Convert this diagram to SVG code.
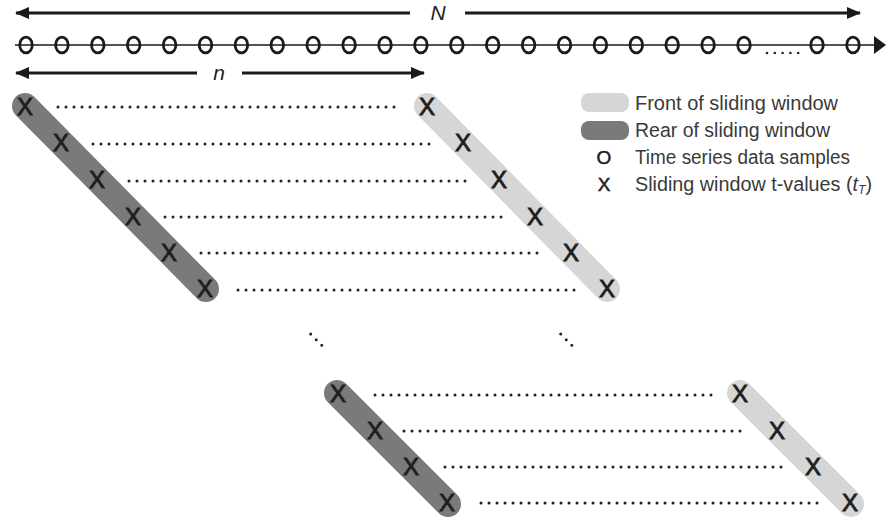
<svg xmlns="http://www.w3.org/2000/svg" width="886" height="524" viewBox="0 0 886 524">
<style>
.arr{stroke:#1a1a1a;stroke-width:3;fill:none}
.ah{fill:#1a1a1a}
.o{fill:none;stroke:#1a1a1a;stroke-width:2.8}
.dots{stroke:#222;stroke-width:3;stroke-linecap:round;stroke-dasharray:0 8;fill:none}
.rear{stroke:#7a7a7a;stroke-width:26;stroke-linecap:round;fill:none}
.front{stroke:#d6d6d6;stroke-width:26;stroke-linecap:round;fill:none}
.x{font-family:"Liberation Sans",Arial,sans-serif;font-size:24px;fill:#1e1e1e;stroke:#1e1e1e;stroke-width:0.9;text-anchor:middle}
.lbl{font-family:"Liberation Sans",Arial,sans-serif;font-size:21px;font-style:italic;fill:#222;text-anchor:middle}
.leg{font-family:"Liberation Sans",Arial,sans-serif;font-size:19.5px;fill:#3a3a3a}
.legsym{font-family:"Liberation Sans",Arial,sans-serif;font-size:19px;fill:#1e1e1e;stroke:#1e1e1e;stroke-width:0.5;text-anchor:middle}
</style>
<defs>
<marker id="head" viewBox="0 0 14 12" refX="13" refY="6" markerWidth="14" markerHeight="12" markerUnits="userSpaceOnUse" orient="auto-start-reverse">
<path d="M0,0 L14,6 L0,12 Z" class="ah"/>
</marker>
</defs>

<g id="connectors">
<line class="arr" x1="16" y1="13" x2="410" y2="13" marker-start="url(#head)"/>
<line class="arr" x1="465" y1="13" x2="860" y2="13" marker-end="url(#head)"/>
<line class="arr" x1="16" y1="73" x2="197" y2="73" marker-start="url(#head)"/>
<line class="arr" x1="242" y1="73" x2="424" y2="73" marker-end="url(#head)"/>
</g>

<g id="N-label"><text class="lbl" x="438" y="20">N</text></g>
<g id="n-label"><text class="lbl" x="219" y="80">n</text></g>

<g id="timeline">
<line x1="15" y1="45" x2="876" y2="45" stroke="#1a1a1a" stroke-width="1.6"/>
<path d="M874,36 L886,45 L874,54 Z" class="ah"/>
<g class="o">
<ellipse cx="26" cy="45" rx="6.3" ry="7.8"/>
<ellipse cx="61.9" cy="45" rx="6.3" ry="7.8"/>
<ellipse cx="97.8" cy="45" rx="6.3" ry="7.8"/>
<ellipse cx="133.7" cy="45" rx="6.3" ry="7.8"/>
<ellipse cx="169.6" cy="45" rx="6.3" ry="7.8"/>
<ellipse cx="205.5" cy="45" rx="6.3" ry="7.8"/>
<ellipse cx="241.4" cy="45" rx="6.3" ry="7.8"/>
<ellipse cx="277.3" cy="45" rx="6.3" ry="7.8"/>
<ellipse cx="313.2" cy="45" rx="6.3" ry="7.8"/>
<ellipse cx="349.1" cy="45" rx="6.3" ry="7.8"/>
<ellipse cx="385" cy="45" rx="6.3" ry="7.8"/>
<ellipse cx="420.9" cy="45" rx="6.3" ry="7.8"/>
<ellipse cx="456.8" cy="45" rx="6.3" ry="7.8"/>
<ellipse cx="492.7" cy="45" rx="6.3" ry="7.8"/>
<ellipse cx="528.6" cy="45" rx="6.3" ry="7.8"/>
<ellipse cx="564.5" cy="45" rx="6.3" ry="7.8"/>
<ellipse cx="600.4" cy="45" rx="6.3" ry="7.8"/>
<ellipse cx="636.3" cy="45" rx="6.3" ry="7.8"/>
<ellipse cx="672.2" cy="45" rx="6.3" ry="7.8"/>
<ellipse cx="708.1" cy="45" rx="6.3" ry="7.8"/>
<ellipse cx="744" cy="45" rx="6.3" ry="7.8"/>
<ellipse cx="817" cy="45" rx="6.3" ry="7.8"/>
<ellipse cx="853" cy="45" rx="6.3" ry="7.8"/>
</g>
<line x1="767" y1="53" x2="799" y2="53" stroke="#222" stroke-width="2.6" stroke-linecap="round" stroke-dasharray="0 7.8"/>
</g>

<g id="window-top">
<line class="rear" x1="25" y1="106" x2="206" y2="289"/>
<line class="front" x1="427" y1="106" x2="607" y2="289"/>
<g id="dots-top">
<line class="dots" x1="58" y1="107" x2="398" y2="107"/>
<line class="dots" x1="93" y1="144" x2="433" y2="144"/>
<line class="dots" x1="129" y1="181" x2="469" y2="181"/>
<line class="dots" x1="165" y1="217" x2="505" y2="217"/>
<line class="dots" x1="201" y1="253" x2="541" y2="253"/>
<line class="dots" x1="238" y1="290" x2="578" y2="290"/>
</g>
<text class="x" x="25" y="115">X</text>
<text class="x" x="61" y="151">X</text>
<text class="x" x="97" y="188">X</text>
<text class="x" x="133" y="225">X</text>
<text class="x" x="169" y="261">X</text>
<text class="x" x="205" y="297">X</text>
<text class="x" x="427" y="115">X</text>
<text class="x" x="463" y="151">X</text>
<text class="x" x="499" y="188">X</text>
<text class="x" x="535" y="225">X</text>
<text class="x" x="571" y="261">X</text>
<text class="x" x="607" y="297">X</text>
</g>

<g id="ellipsis-left">
<line x1="310.7" y1="334" x2="322" y2="345.5" stroke="#222" stroke-width="3" stroke-linecap="round" stroke-dasharray="0 7.9"/>
</g>
<g id="ellipsis-right">
<line x1="560.7" y1="334" x2="572" y2="345.5" stroke="#222" stroke-width="3" stroke-linecap="round" stroke-dasharray="0 7.9"/>
</g>

<g id="window-bottom">
<line class="rear" x1="337" y1="393" x2="448" y2="504"/>
<line class="front" x1="740" y1="393" x2="851" y2="504"/>
<g id="dots-bottom">
<line class="dots" x1="375" y1="395" x2="715" y2="395"/>
<line class="dots" x1="404" y1="431" x2="744" y2="431"/>
<line class="dots" x1="445" y1="467" x2="785" y2="467"/>
<line class="dots" x1="481" y1="503" x2="821" y2="503"/>
</g>
<text class="x" x="338" y="402">X</text>
<text class="x" x="375" y="439">X</text>
<text class="x" x="411" y="475">X</text>
<text class="x" x="447" y="511">X</text>
<text class="x" x="740" y="402">X</text>
<text class="x" x="777" y="439">X</text>
<text class="x" x="813" y="475">X</text>
<text class="x" x="850" y="511">X</text>
</g>

<g id="legend">
<rect x="581" y="93" width="48" height="19" rx="8" fill="#d6d6d6"/>
<text class="leg" x="635" y="110" textLength="203" lengthAdjust="spacingAndGlyphs">Front of sliding window</text>
<rect x="581" y="121" width="48" height="19" rx="8" fill="#7a7a7a"/>
<text class="leg" x="635" y="137" textLength="195" lengthAdjust="spacingAndGlyphs">Rear of sliding window</text>
<text class="legsym" x="604" y="164">O</text>
<text class="leg" x="635" y="164" textLength="215" lengthAdjust="spacingAndGlyphs">Time series data samples</text>
<text class="legsym" x="604" y="191">X</text>
<text class="leg" x="635" y="191" textLength="237" lengthAdjust="spacingAndGlyphs">Sliding window t-values (<tspan font-style="italic">t</tspan><tspan font-style="italic" font-size="12" dy="3">T</tspan><tspan dy="-3">)</tspan></text>
</g>
</svg>
